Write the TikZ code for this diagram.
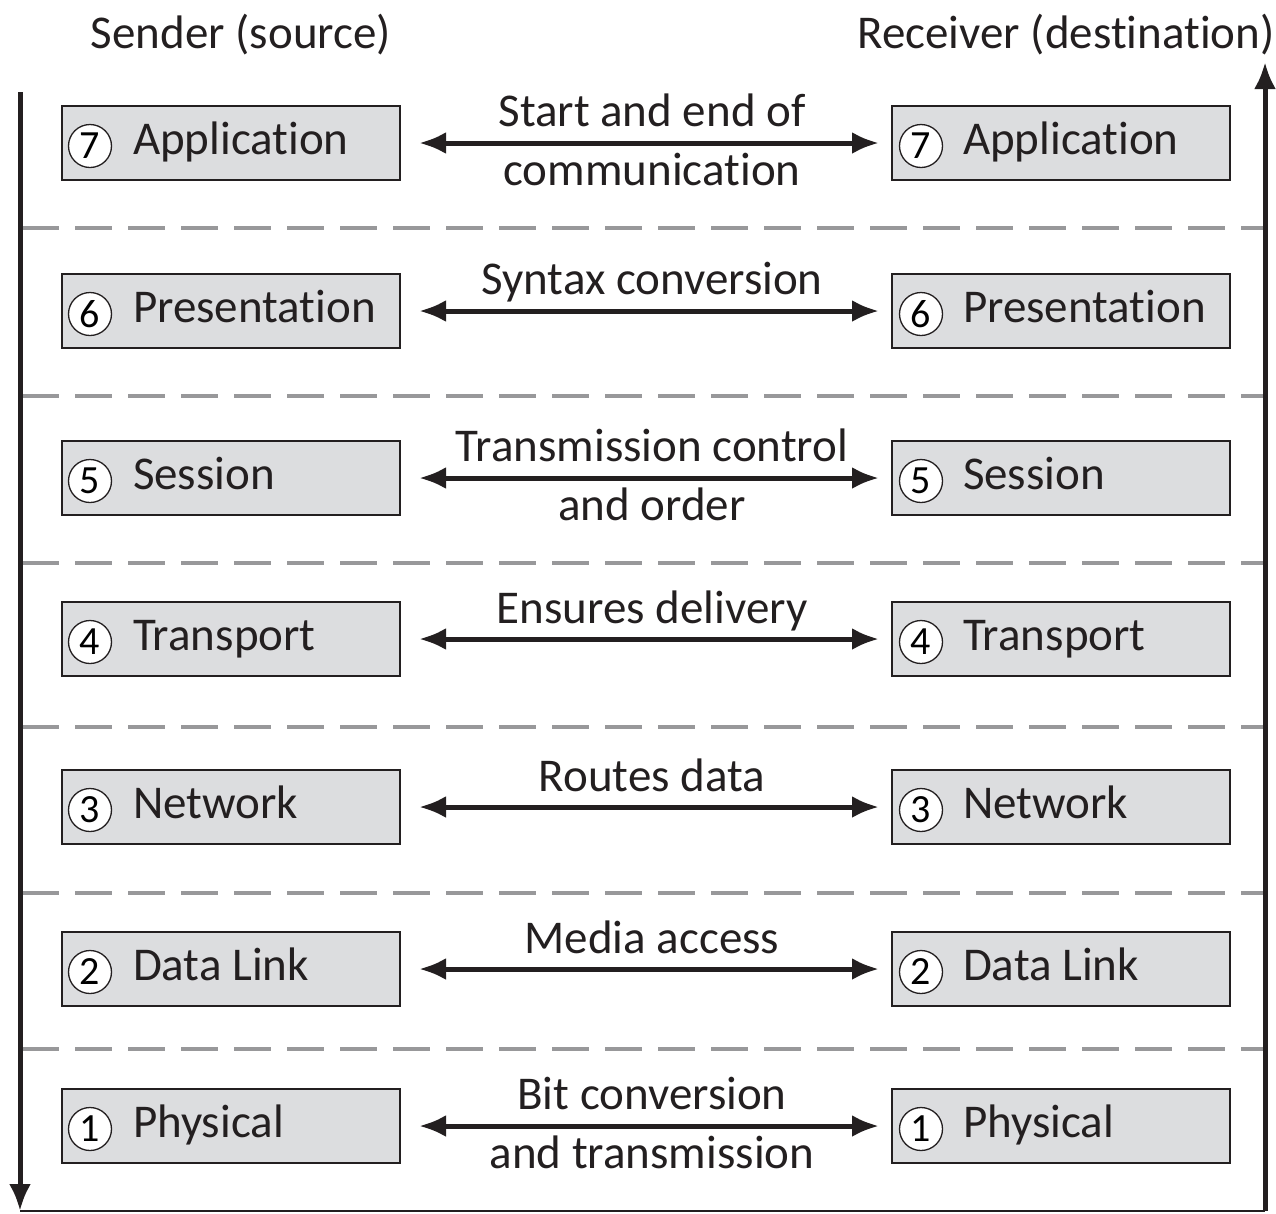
\documentclass[tikz,border=0pt]{standalone}
\usepackage{fontspec}
\setmainfont{Carlito}[Ligatures={NoCommon}]
\usetikzlibrary{arrows.meta}

\definecolor{boxgray}{RGB}{220,221,223}
\definecolor{dashgray}{RGB}{152,152,154}
\definecolor{inkgray}{RGB}{35,31,32}

\tikzset{
  bigfont/.style={font=\fontsize{47}{59}\selectfont, text=inkgray},
  layerbox/.style={bigfont, draw=inkgray, line width=2pt, fill=boxgray,
    minimum width=338pt, minimum height=74pt, inner sep=0pt,
    text height=33pt, text depth=11pt},
  numring/.style={circle, draw=inkgray, line width=1.3pt, fill=white,
    minimum size=43pt, inner sep=0pt, font=\fontsize{40}{40}\selectfont},
  peerlabel/.style={bigfont, anchor=base, align=center, inner sep=0pt},
  head/.style={bigfont, anchor=base, inner sep=0pt},
  peer/.style={line width=5pt, draw=inkgray,
    {Latex[length=27pt,width=22pt]}-{Latex[length=27pt,width=22pt]},
    shorten <=18pt, shorten >=12pt},
  flow/.style={line width=5pt, draw=inkgray, -{Latex[length=27pt,width=22pt]}},
  divider/.style={line width=4.5pt, draw=dashgray, dash pattern=on 37pt off 16pt}
}

\begin{document}
\begin{tikzpicture}[x=1pt,y=-1pt]
\useasboundingbox (0,0) rectangle (1276,1213);

% headings
\node[head] (sender) at (241,48) {Sender (source)};
\node[head] (receiver) at (1066,48) {Receiver (destination)};

% separators between layers
\foreach \y in {228,396,563,727,893,1049}
  \draw[divider] (22,\y) -- (1263,\y);

% the seven layers on both sides (\dy = baseline of the label's last line)
\foreach \n/\name/\y/\dy/\what in {
    7/Application/143/42/{Start and end of\\communication},
    6/Presentation/311/-17/{Syntax conversion},
    5/Session/478/42/{Transmission control\\and order},
    4/Transport/639/-16/{Ensures delivery},
    3/Network/807/-16/{Routes data},
    2/Data Link/969/-16/{Media access},
    1/Physical/1126/42/{Bit conversion\\and transmission}} {
  \node[layerbox] (L\n) at (231,\y) {\makebox[338pt][l]{\hspace{71pt}\name}};
  \node[layerbox] (R\n) at (1061,\y) {\makebox[338pt][l]{\hspace{71pt}\name}};
  \node[numring] (LC\n) at ([xshift=29pt,yshift=-3pt]L\n.west) {\n};
  \node[numring] (RC\n) at ([xshift=30pt,yshift=-3pt]R\n.west) {\n};
  \draw[peer] (L\n) -- (R\n);
  \node[peerlabel] (T\n) at (652,{\y+\dy}) {\what};
}

% data flow down the sender and up the receiver
\coordinate (stop) at (20,92);
\coordinate (sbot) at (20,1211);
\coordinate (rbot) at (1265,1211);
\coordinate (rtop) at (1265,62);
\draw[flow] (stop) -- (sbot);
\draw[flow] (rbot) -- (rtop);
\draw[line width=1.5pt, draw=inkgray] (sbot) -- (rbot);
\end{tikzpicture}
\end{document}
